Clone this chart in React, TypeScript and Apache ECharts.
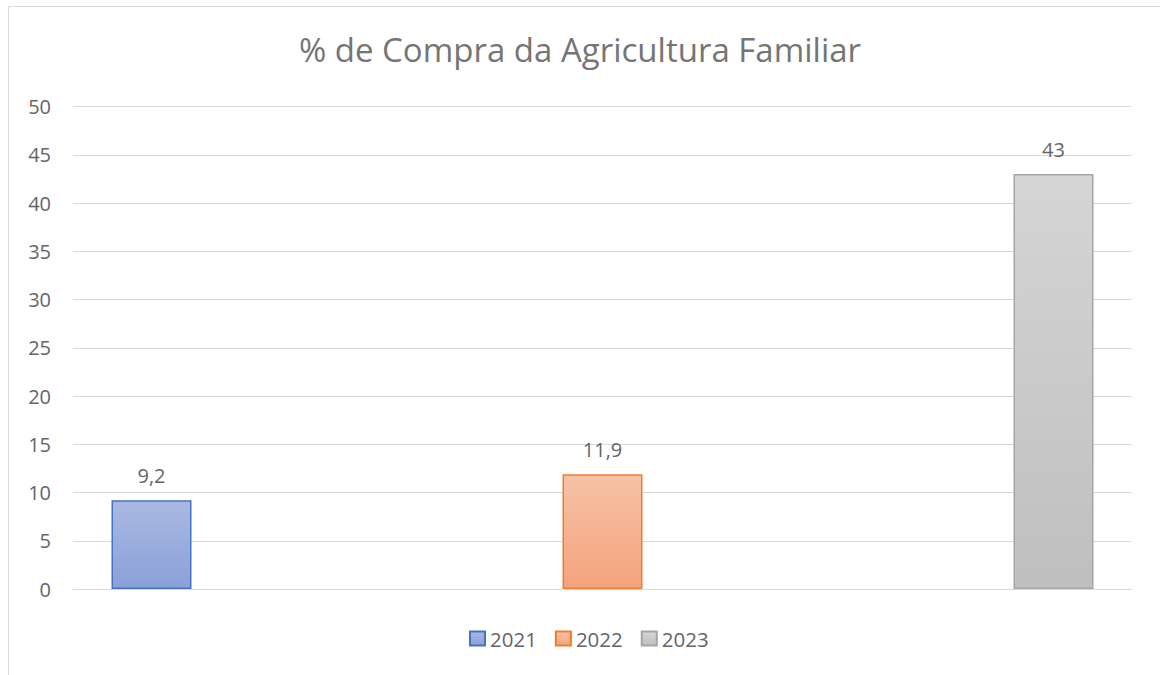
import React, { useEffect, useRef } from "react";
import * as echarts from "echarts";

const categories = ["2021", "2022", "2023"];
const seriesNames = ["2021", "2022", "2023"];
const values2021 = [9.2, "-", "-"];
const values2022 = ["-", 11.9, "-"];
const values2023 = ["-", "-", 43];
const yTicks = { min: 0, max: 50, interval: 5 };
const labelTexts: Record<string, string> = { "9.2": "9,2", "11.9": "11,9", "43": "43" };

const fills = [
  ["#aab9e3", "#8aa0d7"],
  ["#f7c2a6", "#f4a37c"],
  ["#d5d5d5", "#bfbfbf"],
];
const borders = ["#4472c4", "#ed7d31", "#a5a5a5"];

export default function App() {
  const ref = useRef<HTMLDivElement>(null);
  useEffect(() => {
    if (!ref.current) return;
    const chart = echarts.init(ref.current, undefined, { renderer: "svg" });
    const font = "'Open Sans', sans-serif";
    const dataSets = [values2021, values2022, values2023];
    chart.setOption({
      animation: false,
      backgroundColor: "#ffffff",
      textStyle: { fontFamily: font },
      title: {
        text: "% de Compra da Agricultura Familiar",
        left: "center",
        top: 28,
        textStyle: { fontFamily: font, fontSize: 33, fontWeight: "normal", color: "#757575" },
      },
      graphic: [
        {
          type: "rect",
          shape: { x: 8.5, y: 6.5, width: 1200, height: 700 },
          style: { fill: "none", stroke: "#d9d9d9", lineWidth: 1 },
          silent: true,
          z: -1,
        },
      ],
      legend: {
        bottom: 21,
        left: 464,
        icon: "rect",
        itemWidth: 15,
        itemHeight: 14,
        itemGap: 18,
        data: seriesNames,
        textStyle: { fontFamily: font, fontSize: 20.5, color: "#656565" },
      },
      grid: { left: 73, right: 28, top: 106.5, bottom: 86, containLabel: false },
      xAxis: {
        type: "category",
        data: categories,
        axisLine: { show: true, lineStyle: { color: "#d9d9d9", width: 1 } },
        axisTick: { show: false },
        axisLabel: { show: false },
      },
      yAxis: {
        type: "value",
        min: yTicks.min,
        max: yTicks.max,
        interval: yTicks.interval,
        axisLine: { show: false },
        axisTick: { show: false },
        axisLabel: { fontFamily: font, fontSize: 20, color: "#656565", margin: 22 },
        splitLine: { lineStyle: { color: "#d9d9d9", width: 1 } },
      },
      series: seriesNames.map((name, i) => ({
        name,
        type: "bar",
        data: dataSets[i],
        barWidth: 80,
        barGap: "22.5%",
        itemStyle: {
          color: new echarts.graphic.LinearGradient(0, 0, 0, 1, [
            { offset: 0, color: fills[i][0] },
            { offset: 1, color: fills[i][1] },
          ]),
          borderColor: borders[i],
          borderWidth: 1.5,
        },
        label: {
          show: true,
          position: "top",
          distance: 15,
          fontFamily: font,
          fontSize: 20,
          color: "#656565",
          formatter: (p: any) => labelTexts[String(p.value)] ?? String(p.value).replace(".", ","),
        },
      })),
    });
    return () => chart.dispose();
  }, []);
  return (
    <div
      ref={ref}
      style={{ position: "absolute", left: 0, top: 0, width: 1160, height: 675 }}
    />
  );
}
